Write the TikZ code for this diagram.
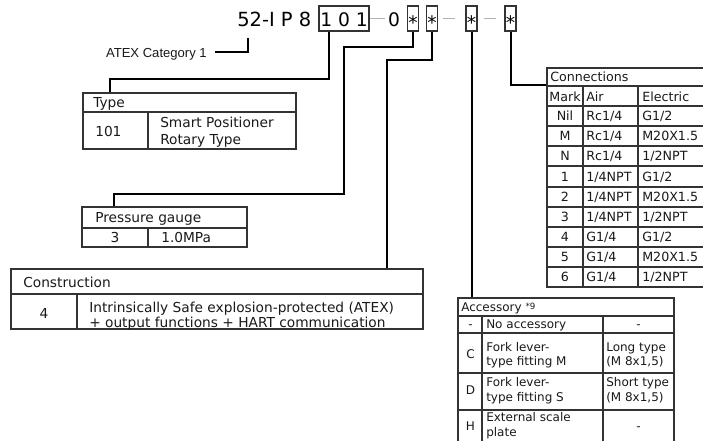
\documentclass[tikz,border=0pt]{standalone}
\usepackage{fontspec}
\setmainfont{DejaVu Sans}
\newfontfamily\arialfont{Liberation Sans}

\begin{document}
\begin{tikzpicture}[x=0.75pt,y=-0.75pt,
        conn/.style={line width=1.5pt},
        gap/.style={draw=black!30,line width=1.1pt},
        codetxt/.style={inner sep=0pt,anchor=base,text height=15.75pt,text depth=3pt,
                        font=\fontsize{14}{16}\selectfont},
        codebox/.style={codetxt,draw=black!80,line width=0.9pt,minimum width=8.25pt},
        grid/.style={draw=black!80,line width=1pt},
        big/.style={inner sep=0pt,text=black!90,text height=7.5pt,text depth=0pt,
                    font=\fontsize{10.3}{12}\selectfont},
        mid/.style={big,text height=6.9pt,font=\fontsize{9.5}{11}\selectfont},
        small/.style={big,text height=6.6pt,font=\fontsize{9}{11}\selectfont}]
    \useasboundingbox (0,0) rectangle (703,441);
    \clip (0,0) rectangle (703,441);

    % model code
    \node[codetxt,anchor=base west,font=\fontsize{14.6}{16}\selectfont] (code) at (237,27) {52-I P 8};
    \node[codebox,minimum width=37.5pt] (b101) at (344,27) {1 0 1};
    \node[codetxt] (zero) at (394,27) {0};
    \node[codebox] (s1) at (413,27) {\raisebox{-2pt}{*}};
    \node[codebox] (s2) at (432,27) {\raisebox{-2pt}{*}};
    \node[codebox] (s3) at (471.5,27) {\raisebox{-2pt}{*}};
    \node[codebox] (s4) at (510.5,27) {\raisebox{-2pt}{*}};
    \draw[gap,shorten >=2.25pt] (b101.east) -- (zero.west);
    \draw[gap,shorten <=4pt,shorten >=7.5pt] (s2.east) -- (s3.west);
    \draw[gap,shorten <=4.5pt,shorten >=6pt] (s3.east) -- (s4.west);

    \node[inner sep=0pt,anchor=east,text=black!90,text height=7pt,text depth=0pt,
          font=\arialfont\fontsize{9.8}{12}\selectfont] (atex) at (207,52.5) {ATEX Category 1};
    \coordinate (catmark) at (248,38);
    \draw[conn,shorten <=6pt] (atex.east) -| (catmark);

    % connectors
    \coordinate (typein) at (110,93);
    \coordinate (gaugein) at (114,207);
    \coordinate (conin) at (387,269);
    \coordinate (accin) at (471.5,298);
    \coordinate (connin) at (547,85);
    \draw[conn] ([xshift=-11.25pt]b101.south) -- ++(0,47) -| (typein);
    \draw[conn] (s1.south) |- (344,47) |- (114,194) -- (gaugein);
    \draw[conn] (s2.south) |- (387,60) -- (conin);
    \draw[conn] (s3.south) -- (accin);
    \draw[conn] (s4.south) |- (connin);

    % type
    \draw[grid] (83,93) rectangle (296,149) (83,112) -- (296,112) (148,112) -- (148,149);
    \node[big,anchor=west] (ty0) at (93,103) {Type};
    \node[big,anchor=west] (ty1) at (95,132) {101};
    \node[big,anchor=west] (ty2) at (160,123) {Smart Positioner};
    \node[big,anchor=west] (ty3) at (160,140) {Rotary Type};

    % pressure gauge
    \draw[grid] (82,207) rectangle (247,247) (82,228) -- (247,228) (148,228) -- (148,247);
    \node[big,anchor=west] (pg0) at (95,218) {Pressure gauge};
    \node[big] (pg1) at (115,238) {3};
    \node[big,anchor=west] (pg2) at (161,238) {1.0MPa};

    % construction
    \draw[grid] (11,269) rectangle (423,329) (11,294) -- (423,294) (77,294) -- (77,329);
    \node[big,anchor=west] (co0) at (23,283) {Construction};
    \node[big] (co1) at (44,314) {4};
    \node[big,anchor=west] (co2) at (89,308) {Intrinsically Safe explosion-protected (ATEX)};
    \node[big,anchor=west] (co3) at (89,323) {+ output functions + HART communication};

    % connections
    \draw[grid] (547,68) rectangle (712,287);
    \draw[grid] (547,86) -- (712,86) (547,106) -- (712,106) (547,126) -- (712,126)
                (547,146) -- (712,146) (547,166) -- (712,166) (547,187) -- (712,187)
                (547,207) -- (712,207) (547,227) -- (712,227) (547,247) -- (712,247)
                (547,267) -- (712,267);
    \draw[grid] (583,86) -- (583,287) (638,86) -- (638,287);
    \node[mid,anchor=west] (cn0) at (550,76.5) {Connections};
    \node[mid] (mk0) at (565,96.5) {Mark};
    \node[mid,anchor=west] (air0) at (586,96.5) {Air};
    \node[mid,anchor=west] (el0) at (642,96.5) {Electric};
    \node[mid] (mk1) at (565,116) {Nil};
    \node[mid,anchor=west] (air1) at (586,116) {Rc1/4};
    \node[mid,anchor=west] (el1) at (642,116) {G1/2};
    \node[mid] (mk2) at (565,136) {M};
    \node[mid,anchor=west] (air2) at (586,136) {Rc1/4};
    \node[mid,anchor=west] (el2) at (642,136) {M20X1.5};
    \node[mid] (mk3) at (565,156) {N};
    \node[mid,anchor=west] (air3) at (586,156) {Rc1/4};
    \node[mid,anchor=west] (el3) at (642,156) {1/2NPT};
    \node[mid] (mk4) at (565,176.5) {1};
    \node[mid,anchor=west] (air4) at (586,176.5) {1/4NPT};
    \node[mid,anchor=west] (el4) at (642,176.5) {G1/2};
    \node[mid] (mk5) at (565,197) {2};
    \node[mid,anchor=west] (air5) at (586,197) {1/4NPT};
    \node[mid,anchor=west] (el5) at (642,197) {M20X1.5};
    \node[mid] (mk6) at (565,217) {3};
    \node[mid,anchor=west] (air6) at (586,217) {1/4NPT};
    \node[mid,anchor=west] (el6) at (642,217) {1/2NPT};
    \node[mid] (mk7) at (565,237) {4};
    \node[mid,anchor=west] (air7) at (586,237) {G1/4};
    \node[mid,anchor=west] (el7) at (642,237) {G1/2};
    \node[mid] (mk8) at (565,257) {5};
    \node[mid,anchor=west] (air8) at (586,257) {G1/4};
    \node[mid,anchor=west] (el8) at (642,257) {M20X1.5};
    \node[mid] (mk9) at (565,277) {6};
    \node[mid,anchor=west] (air9) at (586,277) {G1/4};
    \node[mid,anchor=west] (el9) at (642,277) {1/2NPT};

    % accessory
    \draw[grid] (458,298) rectangle (674,452);
    \draw[grid] (458,316) -- (674,316) (458,333) -- (674,333) (458,373) -- (674,373)
                (458,410) -- (674,410);
    \draw[grid] (482,316) -- (482,452) (603,316) -- (603,452);
    \node[small,anchor=west] (ac0) at (461,307)
        {Accessory \raisebox{1.5pt}{\fontsize{6.5}{7}\selectfont *9}};
    \node[small] (ac1) at (470.5,324) {-};
    \node[small,anchor=west] (ac2) at (486,324) {No accessory};
    \node[small] (ac3) at (638.5,324) {-};
    \node[small] (ac4) at (470.5,354) {C};
    \node[small,anchor=west] (ac5) at (486,347.5) {Fork lever-};
    \node[small,anchor=west] (ac6) at (486,361.5) {type fitting M};
    \node[small,anchor=west] (ac7) at (606,347.5) {Long type};
    \node[small,anchor=west] (ac8) at (606,361.5) {(M 8x1,5)};
    \node[small] (ac9) at (470.5,390) {D};
    \node[small,anchor=west] (ac10) at (486,382.5) {Fork lever-};
    \node[small,anchor=west] (ac11) at (486,397.5) {type fitting S};
    \node[small,anchor=west] (ac12) at (606,382.5) {Short type};
    \node[small,anchor=west] (ac13) at (606,397.5) {(M 8x1,5)};
    \node[small] (ac14) at (470.5,426) {H};
    \node[small,anchor=west] (ac15) at (486,417.5) {External scale};
    \node[small,anchor=west] (ac16) at (486,432.5) {plate};
    \node[small] (ac17) at (638.5,426) {-};
\end{tikzpicture}
\end{document}
